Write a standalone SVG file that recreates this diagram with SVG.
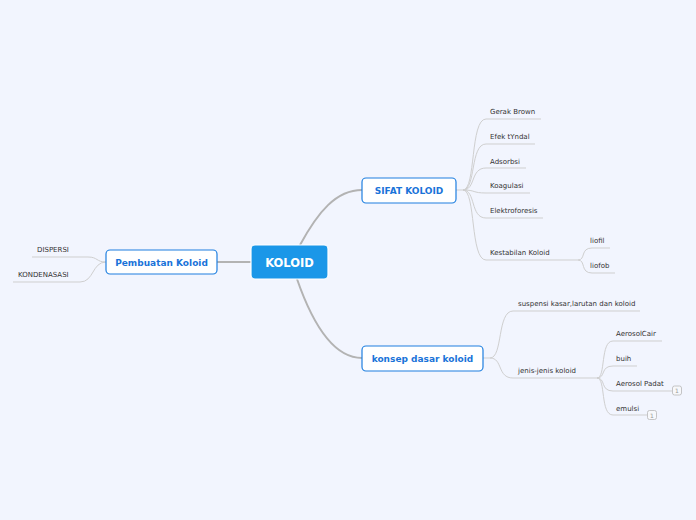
<svg xmlns="http://www.w3.org/2000/svg" width="696" height="520" viewBox="0 0 696 520">
<style>
.bg{fill:#f2f5fe}
.main{fill:none;stroke:#b3b3b3;stroke-width:2}
.leaf{fill:none;stroke:#cfcfcf;stroke-width:1}
.sub{fill:#fff;stroke:#1e7fe0;stroke-width:1.2}
.subt{font-family:"DejaVu Sans",Verdana,sans-serif;font-size:9px;font-weight:bold;fill:#1a73d9;text-anchor:middle}
.lt{font-family:"DejaVu Sans",Verdana,sans-serif;font-size:7px;fill:#333}
.badge{fill:#f7f8fb;stroke:#b8b8b8;stroke-width:0.8}
.bt{font-family:"DejaVu Sans",sans-serif;font-size:6px;fill:#999;text-anchor:middle}
</style>
<rect class="bg" width="696" height="520"/>
<g id="connectors">
<path class="main" d="M300,245 C318,212 336,190 362,190"/>
<path class="main" d="M297,279 C314,328 336,358 362,358"/>
<path class="main" d="M251,262 H217"/>
<path class="leaf" d="M456,190 H463"/>
<path class="leaf" d="M463,190 C476,190 470,119 486,119 H541"/>
<path class="leaf" d="M463,190 C476,190 470,144 486,144 H535"/>
<path class="leaf" d="M463,190 C476,190 470,168 486,168 H526"/>
<path class="leaf" d="M463,190 C476,190 472,193 486,193 H530"/>
<path class="leaf" d="M463,190 C476,190 470,218 486,218 H543"/>
<path class="leaf" d="M463,190 C476,190 470,260 486,260 H578"/>
<path class="leaf" d="M578,260 C586,260 580,248 592,248 H610"/>
<path class="leaf" d="M578,260 C586,260 580,273 592,273 H615"/>
<path class="leaf" d="M483,358 H490"/>
<path class="leaf" d="M490,358 C503,358 497,311 513,311 H640"/>
<path class="leaf" d="M490,358 C503,358 497,378 513,378 H597"/>
<path class="leaf" d="M597,378 C606,378 600,341 613,341 H662"/>
<path class="leaf" d="M597,378 C606,378 600,366 613,366 H637"/>
<path class="leaf" d="M597,378 C606,378 600,391 613,391 H672"/>
<path class="leaf" d="M597,378 C606,378 600,415 613,415 H647"/>
<path class="leaf" d="M106,262 C96,262 98,257 88,257 H32"/>
<path class="leaf" d="M106,262 C92,262 94,282 80,282 H13"/>
</g>
<g id="koloid">
<rect x="251" y="245" width="77" height="34" rx="4" fill="#1b97e8" stroke="#ffffff" stroke-width="1.2"/>
<text x="289.5" y="266.5" font-family="DejaVu Sans,Verdana,sans-serif" font-size="11.5" font-weight="bold" fill="#fff" text-anchor="middle">KOLOID</text>
</g>
<g id="sifat">
<rect class="sub" x="362" y="178" width="94" height="25" rx="4"/>
<text class="subt" x="409" y="194">SIFAT KOLOID</text>
</g>
<g id="konsep">
<rect class="sub" x="362" y="346" width="121" height="25" rx="4"/>
<text class="subt" x="422.5" y="362">konsep dasar koloid</text>
</g>
<g id="pembuatan">
<rect class="sub" x="106" y="250" width="111" height="24" rx="4"/>
<text class="subt" x="161.5" y="265.5">Pembuatan Koloid</text>
</g>
<g id="gerak"><text class="lt" x="490" y="114">Gerak Brown</text></g>
<g id="efek"><text class="lt" x="490" y="139">Efek tYndal</text></g>
<g id="adsorbsi"><text class="lt" x="490" y="164">Adsorbsi</text></g>
<g id="koagulasi"><text class="lt" x="490" y="188">Koagulasi</text></g>
<g id="elektro"><text class="lt" x="490" y="213">Elektroforesis</text></g>
<g id="kestabilan"><text class="lt" x="490" y="255">Kestabilan Koloid</text></g>
<g id="liofil"><text class="lt" x="590" y="243">liofil</text></g>
<g id="liofob"><text class="lt" x="590" y="268">liofob</text></g>
<g id="suspensi"><text class="lt" x="518" y="306">suspensi kasar,larutan dan koloid</text></g>
<g id="jenis"><text class="lt" x="518" y="373">jenis-jenis koloid</text></g>
<g id="aerosolcair"><text class="lt" x="616" y="336">AerosolCair</text></g>
<g id="buih"><text class="lt" x="616" y="361">buih</text></g>
<g id="aerosolpadat"><text class="lt" x="616" y="386">Aerosol Padat</text>
<rect class="badge" x="672.5" y="386" width="9" height="9" rx="2"/><text class="bt" x="677" y="393">1</text></g>
<g id="emulsi"><text class="lt" x="616" y="411">emulsi</text>
<rect class="badge" x="647.5" y="410.5" width="9" height="9" rx="2"/><text class="bt" x="652" y="417.5">1</text></g>
<g id="dispersi"><text class="lt" x="37" y="252">DISPERSI</text></g>
<g id="kondensasi"><text class="lt" x="18" y="277">KONDENASASI</text></g>
</svg>
